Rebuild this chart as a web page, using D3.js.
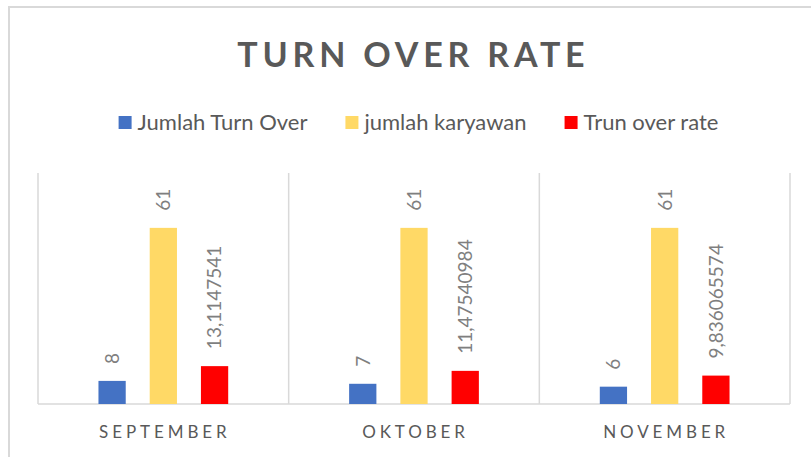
<!DOCTYPE html>
<meta charset="utf-8">
<style>
body { margin: 0; background: #fff; }
text { font-family: Lato, "Open Sans", sans-serif; }
.title { font-size: 34px; font-weight: bold; fill: #595959; letter-spacing: 4.8px; }
.legend text { font-size: 22px; fill: #595959; }
.cat { font-size: 17px; fill: #595959; letter-spacing: 3.9px; }
.lbl { font-size: 19px; fill: #7f7f7f; }
.grid { stroke: #d9d9d9; stroke-width: 1.5; }
</style>
<body>
<script src="https://cdn.jsdelivr.net/npm/d3@7"></script>
<script>

// data
var months = ["SEPTEMBER", "OKTOBER", "NOVEMBER"];
var seriesNames = ["Jumlah Turn Over", "jumlah karyawan", "Trun over rate"];
var turnOver = [8, 7, 6];
var karyawan = [61, 61, 61];
var rate = [13.1147541, 11.47540984, 9.836065574];
var rateLabels = ["13,1147541", "11,47540984", "9,836065574"];
var colors = ["#4472c4", "#ffd966", "#ff0000"];

var width = 811,
    height = 457;

var svg = d3.select("body").append("svg")
    .attr("width", width)
    .attr("height", height);

// chart frame (runs off the right and bottom edge)
svg.append("rect")
    .attr("x", 9).attr("y", 7)
    .attr("width", 900).attr("height", 600)
    .attr("fill", "none")
    .attr("stroke", "#d9d9d9")
    .attr("stroke-width", 2);

// title
svg.append("text")
    .attr("class", "title")
    .attr("x", 411 + 2.4)
    .attr("y", 67)
    .attr("text-anchor", "middle")
    .text("TURN OVER RATE");

var plot = { left: 38, right: 790, top: 173, bottom: 404 };

var x0 = d3.scaleBand()
    .domain(months)
    .range([plot.left, plot.right])
    .padding(0);

var x1 = d3.scaleBand()
    .domain(seriesNames)
    .range([0, x0.bandwidth()])
    .paddingInner(0.468)
    .paddingOuter(1.18);

var y = d3.scaleLinear()
    .domain([0, 80])
    .range([plot.bottom, plot.top]);

// vertical separators between categories
var edges = months.map(function(m) { return x0(m); }).concat([plot.right]);
svg.selectAll(".vline")
    .data(edges)
  .enter().append("line")
    .attr("class", "grid")
    .attr("x1", function(d) { return d; })
    .attr("x2", function(d) { return d; })
    .attr("y1", plot.top)
    .attr("y2", plot.bottom);

// baseline
svg.append("line")
    .attr("class", "grid")
    .attr("x1", plot.left).attr("x2", plot.right)
    .attr("y1", y(0)).attr("y2", y(0));

var rows = months.map(function(m, i) {
  return {
    month: m,
    values: [
      { key: seriesNames[0], value: turnOver[i], label: String(turnOver[i]), color: colors[0] },
      { key: seriesNames[1], value: karyawan[i], label: String(karyawan[i]), color: colors[1] },
      { key: seriesNames[2], value: rate[i], label: rateLabels[i], color: colors[2] }
    ]
  };
});

var groups = svg.selectAll(".grp")
    .data(rows)
  .enter().append("g")
    .attr("class", "grp")
    .attr("transform", function(d) { return "translate(" + x0(d.month) + ",0)"; });

groups.selectAll("rect")
    .data(function(d) { return d.values; })
  .enter().append("rect")
    .attr("x", function(d) { return x1(d.key); })
    .attr("width", x1.bandwidth())
    .attr("y", function(d) { return y(d.value); })
    .attr("height", function(d) { return y(0) - y(d.value); })
    .attr("fill", function(d) { return d.color; });

// rotated value labels
groups.selectAll(".lbl")
    .data(function(d) { return d.values; })
  .enter().append("text")
    .attr("class", "lbl")
    .attr("transform", function(d) {
      var cx = x1(d.key) + x1.bandwidth() / 2;
      return "translate(" + cx + "," + (y(d.value) - 17) + ") rotate(-90)";
    })
    .attr("dy", "0.36em")
    .text(function(d) { return d.label; });

// category labels
svg.selectAll(".cat")
    .data(months)
  .enter().append("text")
    .attr("class", "cat")
    .attr("x", function(d) { return x0(d) + x0.bandwidth() / 2 + 1.5; })
    .attr("y", 438)
    .attr("text-anchor", "middle")
    .text(function(d) { return d; });

// legend, centred as a whole
var legend = svg.append("g").attr("class", "legend");
var items = legend.selectAll("g")
    .data(seriesNames)
  .enter().append("g");

items.append("rect")
    .attr("width", 13).attr("height", 13)
    .attr("y", 116)
    .attr("fill", function(d, i) { return colors[i]; });

items.append("text")
    .attr("x", 19)
    .attr("y", 130)
    .text(function(d) { return d; });

var pos = 0;
items.each(function() {
  var w = 19 + d3.select(this).select("text").node().getComputedTextLength();
  d3.select(this).attr("transform", "translate(" + pos + ",0)");
  pos += w + 38;
});
var total = pos - 38;
legend.attr("transform", "translate(" + (418.5 - total / 2) + ",0)");

</script>
</body>
